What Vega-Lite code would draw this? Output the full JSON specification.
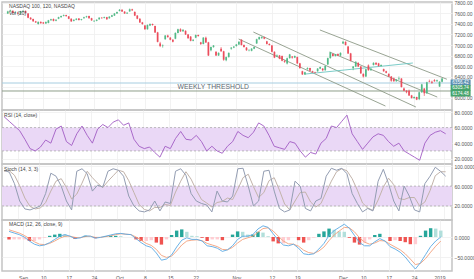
{
"$schema": "https://vega.github.io/schema/vega-lite/v6.json",
"padding": 0,
"background": "white",
"spacing": 0,
"bounds": "flush",
"config": {
  "font": "Liberation Sans",
  "view": {"stroke": "#c4c4c4", "strokeWidth": 1.5},
  "axis": {"labelFontSize": 5, "labelColor": "#555555", "gridColor": "#efefef", "gridWidth": 0.8, "ticks": false, "domain": false, "labelPadding": 2, "labelOverlap": false, "labelBound": false, "tickCount": 100}
},
"datasets": {
  "candles": [
{"t":-0.25,"o":7600,"h":7652,"l":7590,"c":7640},{"t":0.25,"o":7640,"h":7672,"l":7632,"c":7660},
{"t":0.75,"o":7650,"h":7662,"l":7602,"c":7610},{"t":1.25,"o":7610,"h":7630,"l":7598,"c":7620},
{"t":1.75,"o":7615,"h":7625,"l":7590,"c":7600},{"t":2.25,"o":7600,"h":7650,"l":7594,"c":7640},
{"t":2.75,"o":7635,"h":7660,"l":7625,"c":7650},{"t":3.25,"o":7650,"h":7656,"l":7600,"c":7610},
{"t":3.75,"o":7600,"h":7608,"l":7510,"c":7520},{"t":4.25,"o":7520,"h":7530,"l":7480,"c":7490},
{"t":4.75,"o":7495,"h":7502,"l":7440,"c":7450},{"t":5.25,"o":7450,"h":7460,"l":7420,"c":7430},
{"t":5.75,"o":7400,"h":7448,"l":7388,"c":7440},{"t":6.25,"o":7440,"h":7450,"l":7405,"c":7415},
{"t":6.75,"o":7430,"h":7438,"l":7398,"c":7410},{"t":7.25,"o":7410,"h":7450,"l":7404,"c":7440},
{"t":7.75,"o":7420,"h":7478,"l":7412,"c":7470},{"t":8.25,"o":7470,"h":7500,"l":7462,"c":7490},
{"t":8.75,"o":7495,"h":7505,"l":7450,"c":7460},{"t":9.25,"o":7460,"h":7490,"l":7452,"c":7480},
{"t":9.75,"o":7500,"h":7538,"l":7492,"c":7530},{"t":10.25,"o":7530,"h":7560,"l":7522,"c":7550},
{"t":10.75,"o":7555,"h":7580,"l":7545,"c":7570},{"t":11.25,"o":7570,"h":7576,"l":7540,"c":7550},
{"t":11.75,"o":7545,"h":7552,"l":7492,"c":7500},{"t":12.25,"o":7500,"h":7508,"l":7440,"c":7450},
{"t":12.75,"o":7460,"h":7488,"l":7450,"c":7480},{"t":13.25,"o":7480,"h":7510,"l":7472,"c":7500},
{"t":13.75,"o":7505,"h":7512,"l":7466,"c":7475},{"t":14.25,"o":7475,"h":7498,"l":7468,"c":7490},
{"t":14.75,"o":7510,"h":7538,"l":7502,"c":7530},{"t":15.25,"o":7530,"h":7556,"l":7522,"c":7545},
{"t":15.75,"o":7550,"h":7558,"l":7502,"c":7510},{"t":16.25,"o":7510,"h":7518,"l":7460,"c":7470},
{"t":16.75,"o":7450,"h":7468,"l":7438,"c":7460},{"t":17.25,"o":7460,"h":7490,"l":7452,"c":7480},
{"t":17.75,"o":7490,"h":7528,"l":7482,"c":7520},{"t":18.25,"o":7520,"h":7530,"l":7502,"c":7510},
{"t":18.75,"o":7515,"h":7540,"l":7506,"c":7530},{"t":19.25,"o":7530,"h":7536,"l":7480,"c":7490},
{"t":19.75,"o":7510,"h":7548,"l":7500,"c":7540},{"t":20.25,"o":7540,"h":7575,"l":7532,"c":7565},
{"t":20.75,"o":7560,"h":7610,"l":7552,"c":7600},{"t":21.25,"o":7600,"h":7636,"l":7592,"c":7627},
{"t":21.75,"o":7650,"h":7685,"l":7640,"c":7670},{"t":22.25,"o":7670,"h":7678,"l":7630,"c":7640},
{"t":22.75,"o":7635,"h":7645,"l":7592,"c":7600},{"t":23.25,"o":7600,"h":7625,"l":7590,"c":7615},
{"t":23.75,"o":7640,"h":7695,"l":7632,"c":7680},{"t":24.25,"o":7680,"h":7690,"l":7650,"c":7660},
{"t":24.75,"o":7630,"h":7640,"l":7550,"c":7560},{"t":25.25,"o":7560,"h":7570,"l":7490,"c":7500},
{"t":25.75,"o":7500,"h":7510,"l":7420,"c":7430},{"t":26.25,"o":7430,"h":7440,"l":7385,"c":7400},
{"t":26.75,"o":7370,"h":7380,"l":7290,"c":7300},{"t":27.25,"o":7300,"h":7392,"l":7292,"c":7380},
{"t":27.75,"o":7370,"h":7412,"l":7360,"c":7400},{"t":28.25,"o":7400,"h":7408,"l":7370,"c":7380},
{"t":28.75,"o":7360,"h":7368,"l":7230,"c":7240},{"t":29.25,"o":7240,"h":7250,"l":7050,"c":7060},
{"t":29.75,"o":7030,"h":7060,"l":6960,"c":6980},{"t":30.25,"o":6980,"h":7010,"l":6950,"c":6990},
{"t":30.75,"o":7110,"h":7190,"l":7100,"c":7180},{"t":31.25,"o":7180,"h":7196,"l":7140,"c":7150},
{"t":31.75,"o":7140,"h":7150,"l":7090,"c":7100},{"t":32.25,"o":7100,"h":7110,"l":7050,"c":7060},
{"t":32.75,"o":7120,"h":7240,"l":7110,"c":7230},{"t":33.25,"o":7230,"h":7310,"l":7222,"c":7300},
{"t":33.75,"o":7300,"h":7318,"l":7250,"c":7260},{"t":34.25,"o":7260,"h":7298,"l":7250,"c":7290},
{"t":34.75,"o":7270,"h":7280,"l":7190,"c":7200},{"t":35.25,"o":7200,"h":7210,"l":7120,"c":7130},
{"t":35.75,"o":7160,"h":7170,"l":7070,"c":7080},{"t":36.25,"o":7080,"h":7110,"l":7070,"c":7100},
{"t":36.75,"o":7140,"h":7200,"l":7130,"c":7190},{"t":37.25,"o":7190,"h":7198,"l":7160,"c":7170},
{"t":37.75,"o":7050,"h":7060,"l":7000,"c":7020},{"t":38.25,"o":7020,"h":7150,"l":7012,"c":7140},
{"t":38.75,"o":7140,"h":7160,"l":7040,"c":7050},{"t":39.25,"o":7050,"h":7060,"l":6790,"c":6800},
{"t":39.75,"o":6900,"h":6970,"l":6880,"c":6960},{"t":40.25,"o":6960,"h":7000,"l":6950,"c":6990},
{"t":40.75,"o":6870,"h":6880,"l":6790,"c":6800},{"t":41.25,"o":6800,"h":6860,"l":6792,"c":6850},
{"t":41.75,"o":6930,"h":6960,"l":6870,"c":6880},{"t":42.25,"o":6880,"h":6890,"l":6700,"c":6720},
{"t":42.75,"o":6710,"h":6780,"l":6690,"c":6770},{"t":43.25,"o":6770,"h":6858,"l":6760,"c":6850},
{"t":43.75,"o":6930,"h":6960,"l":6910,"c":6950},{"t":44.25,"o":6950,"h":6980,"l":6940,"c":6970},
{"t":44.75,"o":6980,"h":7020,"l":6970,"c":7010},{"t":45.25,"o":7010,"h":7070,"l":7000,"c":7060},
{"t":45.75,"o":7100,"h":7110,"l":6990,"c":7000},{"t":46.25,"o":7000,"h":7010,"l":6950,"c":6960},
{"t":46.75,"o":6950,"h":6960,"l":6890,"c":6900},{"t":47.25,"o":6900,"h":6920,"l":6880,"c":6905},
{"t":47.75,"o":6890,"h":6940,"l":6880,"c":6930},{"t":48.25,"o":6930,"h":6970,"l":6920,"c":6960},
{"t":48.75,"o":7030,"h":7120,"l":7020,"c":7110},{"t":49.25,"o":7110,"h":7160,"l":7100,"c":7150},
{"t":49.75,"o":7130,"h":7165,"l":7120,"c":7150},{"t":50.25,"o":7150,"h":7158,"l":7110,"c":7120},
{"t":50.75,"o":7070,"h":7080,"l":7010,"c":7020},{"t":51.25,"o":7020,"h":7030,"l":6990,"c":7000},
{"t":51.75,"o":6990,"h":7000,"l":6860,"c":6870},{"t":52.25,"o":6870,"h":6880,"l":6750,"c":6760},
{"t":52.75,"o":6780,"h":6820,"l":6770,"c":6800},{"t":53.25,"o":6800,"h":6810,"l":6730,"c":6740},
{"t":53.75,"o":6790,"h":6800,"l":6690,"c":6700},{"t":54.25,"o":6700,"h":6710,"l":6660,"c":6680},
{"t":54.75,"o":6650,"h":6760,"l":6630,"c":6750},{"t":55.25,"o":6750,"h":6830,"l":6740,"c":6820},
{"t":55.75,"o":6780,"h":6790,"l":6740,"c":6760},{"t":56.25,"o":6760,"h":6800,"l":6750,"c":6790},
{"t":56.75,"o":6770,"h":6780,"l":6640,"c":6650},{"t":57.25,"o":6650,"h":6660,"l":6550,"c":6560},
{"t":57.75,"o":6500,"h":6510,"l":6430,"c":6440},{"t":58.25,"o":6440,"h":6490,"l":6430,"c":6480},
{"t":58.75,"o":6540,"h":6575,"l":6530,"c":6560},{"t":59.25,"o":6560,"h":6566,"l":6500,"c":6510},
{"t":59.75,"o":6500,"h":6510,"l":6470,"c":6480},{"t":60.25,"o":6480,"h":6490,"l":6460,"c":6470},
{"t":60.75,"o":6500,"h":6560,"l":6490,"c":6550},{"t":61.25,"o":6550,"h":6590,"l":6540,"c":6580},
{"t":61.75,"o":6550,"h":6560,"l":6500,"c":6520},{"t":62.25,"o":6520,"h":6610,"l":6510,"c":6600},
{"t":62.75,"o":6630,"h":6760,"l":6620,"c":6750},{"t":63.25,"o":6750,"h":6870,"l":6740,"c":6860},
{"t":63.75,"o":6830,"h":6845,"l":6780,"c":6790},{"t":64.25,"o":6790,"h":6830,"l":6780,"c":6820},
{"t":64.75,"o":6830,"h":6840,"l":6790,"c":6800},{"t":65.25,"o":6800,"h":6860,"l":6790,"c":6850},
{"t":65.75,"o":7030,"h":7080,"l":7020,"c":7060},{"t":66.25,"o":7060,"h":7070,"l":6990,"c":7000},
{"t":66.75,"o":6970,"h":6980,"l":6830,"c":6840},{"t":67.25,"o":6840,"h":6850,"l":6690,"c":6700},
{"t":67.75,"o":6560,"h":6600,"l":6520,"c":6590},{"t":68.25,"o":6590,"h":6690,"l":6580,"c":6680},
{"t":68.75,"o":6660,"h":6670,"l":6580,"c":6590},{"t":69.25,"o":6590,"h":6600,"l":6450,"c":6460},
{"t":69.75,"o":6450,"h":6460,"l":6380,"c":6400},{"t":70.25,"o":6400,"h":6550,"l":6390,"c":6540},
{"t":70.75,"o":6610,"h":6630,"l":6510,"c":6520},{"t":71.25,"o":6520,"h":6560,"l":6510,"c":6550},
{"t":71.75,"o":6620,"h":6670,"l":6610,"c":6660},{"t":72.25,"o":6660,"h":6668,"l":6620,"c":6630},
{"t":72.75,"o":6650,"h":6660,"l":6590,"c":6600},{"t":73.25,"o":6600,"h":6630,"l":6590,"c":6620},
{"t":73.75,"o":6540,"h":6550,"l":6490,"c":6500},{"t":74.25,"o":6500,"h":6510,"l":6460,"c":6470},
{"t":74.75,"o":6450,"h":6460,"l":6390,"c":6400},{"t":75.25,"o":6400,"h":6410,"l":6300,"c":6320},
{"t":75.75,"o":6360,"h":6380,"l":6300,"c":6310},{"t":76.25,"o":6310,"h":6350,"l":6300,"c":6340},
{"t":76.75,"o":6350,"h":6400,"l":6340,"c":6360},{"t":77.25,"o":6360,"h":6370,"l":6190,"c":6200},
{"t":77.75,"o":6170,"h":6190,"l":6120,"c":6130},{"t":78.25,"o":6130,"h":6140,"l":6080,"c":6100},
{"t":78.75,"o":6130,"h":6150,"l":6030,"c":6040},{"t":79.25,"o":6040,"h":6050,"l":5980,"c":5990},
{"t":79.75,"o":5990,"h":6020,"l":5975,"c":6010},{"t":80.25,"o":6010,"h":6015,"l":5950,"c":5960},
{"t":80.75,"o":5970,"h":6110,"l":5950,"c":6100},{"t":81.25,"o":6100,"h":6260,"l":6090,"c":6250},
{"t":81.75,"o":6170,"h":6180,"l":6030,"c":6080},{"t":82.25,"o":6080,"h":6300,"l":6070,"c":6290},
{"t":82.75,"o":6310,"h":6340,"l":6290,"c":6300},{"t":83.25,"o":6300,"h":6320,"l":6260,"c":6280},
{"t":83.75,"o":6330,"h":6350,"l":6300,"c":6310},{"t":84.25,"o":6310,"h":6340,"l":6300,"c":6330},
{"t":84.75,"o":6210,"h":6310,"l":6200,"c":6300},{"t":85.25,"o":6300,"h":6370,"l":6290,"c":6360}
  ],
  "ind": [
{"t":0,"r":74,"k":92,"d":90,"m":14,"s":18,"h":-6,"g":"nd"},
{"t":1,"r":68,"k":88,"d":91,"m":10,"s":14,"h":-6,"g":"nu"},
{"t":2,"r":62,"k":65,"d":82,"m":6,"s":10,"h":-6,"g":"nu"},
{"t":3,"r":56,"k":30,"d":61,"m":0,"s":4,"h":-6,"g":"nu"},
{"t":4,"r":45,"k":14,"d":36,"m":-10,"s":-4,"h":-10,"g":"nd"},
{"t":5,"r":33,"k":12,"d":19,"m":-18,"s":-12,"h":-10,"g":"nu"},
{"t":6,"r":30,"k":16,"d":14,"m":-22,"s":-18,"h":-6,"g":"nu"},
{"t":7,"r":35,"k":20,"d":16,"m":-20,"s":-19,"h":-2,"g":"nu"},
{"t":8,"r":44,"k":45,"d":27,"m":-14,"s":-16,"h":3,"g":"pu"},
{"t":9,"r":40,"k":86,"d":50,"m":-6,"s":-10,"h":6,"g":"pu"},
{"t":10,"r":58,"k":80,"d":70,"m":2,"s":-3,"h":8,"g":"pu"},
{"t":11,"r":62,"k":60,"d":75,"m":6,"s":2,"h":6,"g":"pd"},
{"t":12,"r":42,"k":30,"d":57,"m":2,"s":2,"h":0,"g":"pd"},
{"t":13,"r":37,"k":12,"d":34,"m":-4,"s":-1,"h":-5,"g":"nd"},
{"t":14,"r":52,"k":90,"d":44,"m":-2,"s":-2,"h":0,"g":"pu"},
{"t":15,"r":62,"k":95,"d":66,"m":3,"s":1,"h":3,"g":"pu"},
{"t":16,"r":50,"k":85,"d":90,"m":2,"s":2,"h":0,"g":"pd"},
{"t":17,"r":40,"k":50,"d":77,"m":-3,"s":-1,"h":-3,"g":"nd"},
{"t":18,"r":58,"k":62,"d":66,"m":-1,"s":-1,"h":0,"g":"pu"},
{"t":19,"r":64,"k":58,"d":57,"m":2,"s":1,"h":2,"g":"pu"},
{"t":20,"r":60,"k":90,"d":70,"m":5,"s":3,"h":3,"g":"pu"},
{"t":21,"r":67,"k":95,"d":81,"m":8,"s":6,"h":3,"g":"pu"},
{"t":22,"r":70,"k":92,"d":92,"m":9,"s":8,"h":2,"g":"pd"},
{"t":23,"r":63,"k":80,"d":89,"m":7,"s":7,"h":0,"g":"pd"},
{"t":24,"r":66,"k":40,"d":71,"m":6,"s":6,"h":0,"g":"pu"},
{"t":25,"r":45,"k":20,"d":47,"m":-4,"s":0,"h":-6,"g":"nd"},
{"t":26,"r":36,"k":10,"d":23,"m":-14,"s":-8,"h":-10,"g":"nd"},
{"t":27,"r":33,"k":8,"d":13,"m":-22,"s":-16,"h":-10,"g":"nu"},
{"t":28,"r":35,"k":12,"d":10,"m":-26,"s":-21,"h":-8,"g":"nu"},
{"t":29,"r":28,"k":30,"d":17,"m":-40,"s":-31,"h":-14,"g":"nd"},
{"t":30,"r":22,"k":10,"d":17,"m":-58,"s":-46,"h":-19,"g":"nd"},
{"t":31,"r":36,"k":28,"d":23,"m":-55,"s":-51,"h":-6,"g":"nu"},
{"t":32,"r":33,"k":25,"d":21,"m":-45,"s":-48,"h":5,"g":"pu"},
{"t":33,"r":46,"k":90,"d":48,"m":-25,"s":-35,"h":16,"g":"pu"},
{"t":34,"r":55,"k":95,"d":70,"m":-8,"s":-20,"h":19,"g":"pu"},
{"t":35,"r":45,"k":82,"d":89,"m":-2,"s":-10,"h":13,"g":"pd"},
{"t":36,"r":44,"k":45,"d":74,"m":-6,"s":-8,"h":3,"g":"pd"},
{"t":37,"r":50,"k":30,"d":52,"m":-6,"s":-7,"h":2,"g":"pd"},
{"t":38,"r":42,"k":25,"d":33,"m":-10,"s":-9,"h":-2,"g":"nd"},
{"t":39,"r":30,"k":22,"d":26,"m":-22,"s":-16,"h":-10,"g":"nd"},
{"t":40,"r":36,"k":8,"d":18,"m":-24,"s":-20,"h":-6,"g":"nu"},
{"t":41,"r":30,"k":50,"d":27,"m":-28,"s":-24,"h":-6,"g":"nu"},
{"t":42,"r":27,"k":30,"d":29,"m":-36,"s":-31,"h":-8,"g":"nd"},
{"t":43,"r":36,"k":28,"d":36,"m":-32,"s":-32,"h":0,"g":"pu"},
{"t":44,"r":42,"k":40,"d":33,"m":-22,"s":-26,"h":6,"g":"pu"},
{"t":45,"r":55,"k":95,"d":54,"m":-6,"s":-15,"h":14,"g":"pu"},
{"t":46,"r":50,"k":96,"d":77,"m":2,"s":-6,"h":13,"g":"pd"},
{"t":47,"r":47,"k":60,"d":84,"m":2,"s":-2,"h":6,"g":"pd"},
{"t":48,"r":54,"k":20,"d":59,"m":6,"s":2,"h":6,"g":"pu"},
{"t":49,"r":66,"k":30,"d":37,"m":20,"s":12,"h":13,"g":"pu"},
{"t":50,"r":62,"k":90,"d":47,"m":28,"s":21,"h":11,"g":"pd"},
{"t":51,"r":50,"k":92,"d":71,"m":24,"s":23,"h":2,"g":"pd"},
{"t":52,"r":36,"k":50,"d":77,"m":8,"s":15,"h":-11,"g":"nd"},
{"t":53,"r":34,"k":15,"d":52,"m":-8,"s":2,"h":-16,"g":"nd"},
{"t":54,"r":32,"k":8,"d":24,"m":-20,"s":-10,"h":-16,"g":"nu"},
{"t":55,"r":42,"k":12,"d":12,"m":-22,"s":-17,"h":-8,"g":"nu"},
{"t":56,"r":40,"k":70,"d":30,"m":-18,"s":-18,"h":0,"g":"pu"},
{"t":57,"r":30,"k":60,"d":47,"m":-28,"s":-23,"h":-8,"g":"nd"},
{"t":58,"r":22,"k":15,"d":48,"m":-42,"s":-33,"h":-14,"g":"nd"},
{"t":59,"r":28,"k":10,"d":28,"m":-44,"s":-39,"h":-8,"g":"nu"},
{"t":60,"r":26,"k":30,"d":18,"m":-42,"s":-41,"h":-2,"g":"nu"},
{"t":61,"r":40,"k":35,"d":25,"m":-30,"s":-35,"h":8,"g":"pu"},
{"t":62,"r":46,"k":80,"d":48,"m":-16,"s":-25,"h":14,"g":"pu"},
{"t":63,"r":62,"k":96,"d":70,"m":4,"s":-9,"h":21,"g":"pu"},
{"t":64,"r":60,"k":92,"d":89,"m":16,"s":5,"h":18,"g":"pd"},
{"t":65,"r":68,"k":96,"d":95,"m":24,"s":15,"h":14,"g":"pd"},
{"t":66,"r":76,"k":85,"d":91,"m":32,"s":24,"h":13,"g":"pd"},
{"t":67,"r":52,"k":45,"d":75,"m":22,"s":23,"h":-2,"g":"nd"},
{"t":68,"r":42,"k":25,"d":52,"m":4,"s":13,"h":-14,"g":"nd"},
{"t":69,"r":32,"k":8,"d":26,"m":-14,"s":-2,"h":-19,"g":"nd"},
{"t":70,"r":40,"k":15,"d":16,"m":-22,"s":-13,"h":-14,"g":"nu"},
{"t":71,"r":48,"k":10,"d":11,"m":-22,"s":-18,"h":-6,"g":"nu"},
{"t":72,"r":52,"k":70,"d":32,"m":-12,"s":-15,"h":5,"g":"pu"},
{"t":73,"r":50,"k":94,"d":58,"m":-4,"s":-9,"h":8,"g":"pu"},
{"t":74,"r":42,"k":65,"d":76,"m":-10,"s":-10,"h":0,"g":"pd"},
{"t":75,"r":36,"k":30,"d":63,"m":-24,"s":-18,"h":-10,"g":"nd"},
{"t":76,"r":40,"k":10,"d":35,"m":-30,"s":-25,"h":-8,"g":"nu"},
{"t":77,"r":30,"k":60,"d":33,"m":-38,"s":-32,"h":-10,"g":"nd"},
{"t":78,"r":26,"k":40,"d":37,"m":-50,"s":-42,"h":-13,"g":"nd"},
{"t":79,"r":22,"k":12,"d":37,"m":-66,"s":-55,"h":-18,"g":"nd"},
{"t":80,"r":18,"k":8,"d":20,"m":-80,"s":-69,"h":-18,"g":"nu"},
{"t":81,"r":40,"k":65,"d":28,"m":-64,"s":-66,"h":3,"g":"pu"},
{"t":82,"r":50,"k":80,"d":51,"m":-44,"s":-54,"h":16,"g":"pu"},
{"t":83,"r":54,"k":98,"d":81,"m":-24,"s":-38,"h":22,"g":"pu"},
{"t":84,"r":56,"k":90,"d":89,"m":-10,"s":-23,"h":21,"g":"pd"},
{"t":85,"r":52,"k":80,"d":89,"m":0,"s":-10,"h":16,"g":"pd"}
  ],
  "levels": [{"p":6276,"k":"thr"},{"p":6124,"k":"base"}],
  "chan": [
{"id":1,"k":"ch","t":45.2,"p":7114},{"id":1,"k":"ch","t":74.1,"p":5838},
{"id":2,"k":"ch","t":48.1,"p":7247},{"id":2,"k":"ch","t":80.1,"p":5819},
{"id":3,"k":"ch","t":61.2,"p":7286},{"id":3,"k":"ch","t":86.2,"p":6348},
{"id":4,"k":"ch","t":63.1,"p":6866},{"id":4,"k":"ch","t":84.3,"p":6009},
{"id":5,"k":"tl","t":58.3,"p":6447},{"id":5,"k":"tl","t":79.5,"p":6657}
  ],
  "boxes": [
{"label":"6356.42","p":6285,"k":"last"},
{"label":"6305.74","p":6181,"k":"lvl"},
{"label":"6174.48","p":6076,"k":"lvl"}
  ]
},
"vconcat": [
{
  "width": 450, "height": 108,
  "resolve": {"scale": {"color": "independent"}},
  "layer": [
    {"data": {"name": "levels"}, "mark": {"type": "rule", "strokeWidth": 1},
     "encoding": {
       "y": {"field": "p", "type": "quantitative", "scale": {"domain": [5762, 7819], "nice": false, "zero": false}, "axis": {"orient": "right", "values": [6000,6200,6400,6600,6800,7000,7200,7400,7600,7800], "format": ".2f", "grid": true, "title": null, "labelExpr": "datum.value == 6200 ? '' : datum.label"}},
       "color": {"field": "k", "type": "nominal", "scale": {"domain": ["thr", "base"], "range": ["#a6cde0", "#8f9f8a"]}, "legend": null}}},
    {"data": {"name": "chan"}, "mark": {"type": "line", "strokeWidth": 0.9},
     "encoding": {
       "x": {"field": "t", "type": "quantitative", "scale": {"domain": [-0.4, 86.22], "nice": false, "zero": false}, "axis": {"values": [2.75,6.75,11.75,16.75,21.75,26.75,31.75,36.75,44.75,51.75,56.75,65.75,69.75,74.75,79.75,84.75], "labels": false, "grid": true, "title": null}},
       "y": {"field": "p", "type": "quantitative", "scale": {"domain": [5762, 7819], "nice": false, "zero": false}, "axis": {"orient": "right", "values": [6000,6200,6400,6600,6800,7000,7200,7400,7600,7800], "format": ".2f", "grid": true, "title": null, "labelExpr": "datum.value == 6200 ? '' : datum.label"}},
       "detail": {"field": "id"},
       "color": {"field": "k", "type": "nominal", "scale": {"domain": ["ch", "tl"], "range": ["#8d9a87", "#6cc6c2"]}, "legend": null}}},
    {"data": {"name": "candles"}, "mark": {"type": "rule", "strokeWidth": 0.7},
     "encoding": {
       "x": {"field": "t", "type": "quantitative", "scale": {"domain": [-0.4, 86.22], "nice": false, "zero": false}, "axis": {"values": [2.75,6.75,11.75,16.75,21.75,26.75,31.75,36.75,44.75,51.75,56.75,65.75,69.75,74.75,79.75,84.75], "labels": false, "grid": true, "title": null}},
       "y": {"field": "l", "type": "quantitative", "scale": {"domain": [5762, 7819], "nice": false, "zero": false}, "axis": {"orient": "right", "values": [6000,6200,6400,6600,6800,7000,7200,7400,7600,7800], "format": ".2f", "grid": true, "title": null, "labelExpr": "datum.value == 6200 ? '' : datum.label"}},
       "y2": {"field": "h"},
       "color": {"condition": {"test": "datum.c >= datum.o", "value": "#53b987"}, "value": "#eb4d5c"}}},
    {"data": {"name": "candles"}, "mark": {"type": "bar", "size": 1.7},
     "encoding": {
       "x": {"field": "t", "type": "quantitative", "scale": {"domain": [-0.4, 86.22], "nice": false, "zero": false}, "axis": {"values": [2.75,6.75,11.75,16.75,21.75,26.75,31.75,36.75,44.75,51.75,56.75,65.75,69.75,74.75,79.75,84.75], "labels": false, "grid": true, "title": null}},
       "y": {"field": "o", "type": "quantitative", "scale": {"domain": [5762, 7819], "nice": false, "zero": false}, "axis": {"orient": "right", "values": [6000,6200,6400,6600,6800,7000,7200,7400,7600,7800], "format": ".2f", "grid": true, "title": null, "labelExpr": "datum.value == 6200 ? '' : datum.label"}},
       "y2": {"field": "c"},
       "color": {"condition": {"test": "datum.c >= datum.o", "value": "#53b987"}, "value": "#eb4d5c"}}},
    {"data": {"values": [{"txt": "WEEKLY THRESHOLD"}]}, "mark": {"type": "text", "fontSize": 6.8, "color": "#5c6770", "align": "center", "baseline": "middle"},
     "encoding": {
       "x": {"datum": 40.2, "type": "quantitative", "scale": {"domain": [-0.4, 86.22], "nice": false, "zero": false}},
       "y": {"datum": 6205, "type": "quantitative", "scale": {"domain": [5762, 7819], "nice": false, "zero": false}},
       "text": {"field": "txt"}}},
    {"data": {"values": [{"txt": ["NASDAQ 100, 120, NASDAQ", "Vol (20)"]}]}, "mark": {"type": "text", "fontSize": 5, "color": "#444444", "align": "left", "baseline": "top", "lineHeight": 7},
     "encoding": {
       "x": {"datum": 0.0, "type": "quantitative", "scale": {"domain": [-0.4, 86.22], "nice": false, "zero": false}},
       "y": {"datum": 7780, "type": "quantitative", "scale": {"domain": [5762, 7819], "nice": false, "zero": false}},
       "text": {"field": "txt"}}},
    {"data": {"name": "boxes"}, "mark": {"type": "point", "filled": true, "opacity": 1, "shape": "M-1,-0.3H1V0.3H-1Z", "size": 400},
     "encoding": {
       "x": {"datum": 88.9, "type": "quantitative", "scale": {"domain": [-0.4, 86.22], "nice": false, "zero": false}},
       "y": {"field": "p", "type": "quantitative", "scale": {"domain": [5762, 7819], "nice": false, "zero": false}},
       "color": {"field": "k", "type": "nominal", "scale": {"domain": ["last", "lvl"], "range": ["#5b8fb0", "#46a46c"]}, "legend": null}}},
    {"data": {"name": "boxes"}, "mark": {"type": "text", "fontSize": 4.6, "color": "white", "align": "center", "baseline": "middle"},
     "encoding": {
       "x": {"datum": 88.9, "type": "quantitative", "scale": {"domain": [-0.4, 86.22], "nice": false, "zero": false}},
       "y": {"field": "p", "type": "quantitative", "scale": {"domain": [5762, 7819], "nice": false, "zero": false}},
       "text": {"field": "label"}}}
  ]
},
{
  "width": 450, "height": 54,
  "layer": [
    {"data": {"values": [{"a": 1}]}, "mark": {"type": "rect", "color": "#ead8f6"},
     "encoding": {
       "y": {"datum": 60, "type": "quantitative", "scale": {"domain": [13.2, 82.6], "nice": false, "zero": false}, "axis": {"orient": "right", "values": [20,40,60,80], "format": ".4f", "grid": true, "title": null}},
       "y2": {"datum": 30}}},
    {"data": {"values": [{"v": 60}, {"v": 30}]}, "mark": {"type": "rule", "strokeDash": [2, 2], "color": "#a3a3a3", "strokeWidth": 0.7},
     "encoding": {
       "y": {"field": "v", "type": "quantitative", "scale": {"domain": [13.2, 82.6], "nice": false, "zero": false}, "axis": {"orient": "right", "values": [20,40,60,80], "format": ".4f", "grid": true, "title": null}}}},
    {"data": {"name": "ind"}, "mark": {"type": "line", "color": "#a25cc4", "strokeWidth": 0.9},
     "encoding": {
       "x": {"field": "t", "type": "quantitative", "scale": {"domain": [-0.4, 86.22], "nice": false, "zero": false}, "axis": {"values": [2.75,6.75,11.75,16.75,21.75,26.75,31.75,36.75,44.75,51.75,56.75,65.75,69.75,74.75,79.75,84.75], "labels": false, "grid": true, "title": null}},
       "y": {"field": "r", "type": "quantitative", "scale": {"domain": [13.2, 82.6], "nice": false, "zero": false}, "axis": {"orient": "right", "values": [20,40,60,80], "format": ".4f", "grid": true, "title": null}}}},
    {"data": {"values": [{"txt": "RSI (14, close)"}]}, "mark": {"type": "text", "fontSize": 5, "color": "#444444", "align": "left", "baseline": "middle"},
     "encoding": {
       "x": {"datum": 0.0, "type": "quantitative", "scale": {"domain": [-0.4, 86.22], "nice": false, "zero": false}},
       "y": {"datum": 76.5, "type": "quantitative", "scale": {"domain": [13.2, 82.6], "nice": false, "zero": false}},
       "text": {"field": "txt"}}}
  ]
},
{
  "width": 450, "height": 56,
  "layer": [
    {"data": {"values": [{"a": 1}]}, "mark": {"type": "rect", "color": "#ead8f6"},
     "encoding": {
       "y": {"datum": 60, "type": "quantitative", "scale": {"domain": [-8.3, 104.6], "nice": false, "zero": false}, "axis": {"orient": "right", "values": [20,60,100], "format": ".4f", "grid": true, "title": null}},
       "y2": {"datum": 20}}},
    {"data": {"values": [{"v": 60}, {"v": 20}]}, "mark": {"type": "rule", "strokeDash": [2, 2], "color": "#a3a3a3", "strokeWidth": 0.7},
     "encoding": {
       "y": {"field": "v", "type": "quantitative", "scale": {"domain": [-8.3, 104.6], "nice": false, "zero": false}, "axis": {"orient": "right", "values": [20,60,100], "format": ".4f", "grid": true, "title": null}}}},
    {"data": {"name": "ind"}, "mark": {"type": "line", "color": "#c2b3aa", "strokeWidth": 1},
     "encoding": {
       "x": {"field": "t", "type": "quantitative", "scale": {"domain": [-0.4, 86.22], "nice": false, "zero": false}, "axis": {"values": [2.75,6.75,11.75,16.75,21.75,26.75,31.75,36.75,44.75,51.75,56.75,65.75,69.75,74.75,79.75,84.75], "labels": false, "grid": true, "title": null}},
       "y": {"field": "d", "type": "quantitative", "scale": {"domain": [-8.3, 104.6], "nice": false, "zero": false}, "axis": {"orient": "right", "values": [20,60,100], "format": ".4f", "grid": true, "title": null}}}},
    {"data": {"name": "ind"}, "mark": {"type": "line", "color": "#939db2", "strokeWidth": 1},
     "encoding": {
       "x": {"field": "t", "type": "quantitative", "scale": {"domain": [-0.4, 86.22], "nice": false, "zero": false}, "axis": {"values": [2.75,6.75,11.75,16.75,21.75,26.75,31.75,36.75,44.75,51.75,56.75,65.75,69.75,74.75,79.75,84.75], "labels": false, "grid": true, "title": null}},
       "y": {"field": "k", "type": "quantitative", "scale": {"domain": [-8.3, 104.6], "nice": false, "zero": false}, "axis": {"orient": "right", "values": [20,60,100], "format": ".4f", "grid": true, "title": null}}}},
    {"data": {"values": [{"txt": "Stoch (14, 3, 3)"}]}, "mark": {"type": "text", "fontSize": 5, "color": "#444444", "align": "left", "baseline": "middle"},
     "encoding": {
       "x": {"datum": 0.0, "type": "quantitative", "scale": {"domain": [-0.4, 86.22], "nice": false, "zero": false}},
       "y": {"datum": 94.5, "type": "quantitative", "scale": {"domain": [-8.3, 104.6], "nice": false, "zero": false}},
       "text": {"field": "txt"}}}
  ]
},
{
  "width": 450, "height": 51,
  "resolve": {"scale": {"color": "independent"}},
  "layer": [
    {"data": {"name": "ind"}, "mark": {"type": "bar", "size": 3.4},
     "encoding": {
       "x": {"field": "t", "type": "quantitative", "scale": {"domain": [-0.4, 86.22], "nice": false, "zero": false}, "axis": {"values": [2.75,6.75,11.75,16.75,21.75,26.75,31.75,36.75,44.75,51.75,56.75,65.75,69.75,74.75,79.75,84.75], "labels": true, "grid": true, "title": null, "labelFlush": false, "labelOverlap": false, "labelPadding": 4, "labelExpr": "['Sep','10','17','24','Oct','8','15','22','Nov','12','19','Dec','10','17','24','2019'][indexof([2.75,6.75,11.75,16.75,21.75,26.75,31.75,36.75,44.75,51.75,56.75,65.75,69.75,74.75,79.75,84.75], datum.value)]"}},
       "y": {"field": "h", "type": "quantitative", "scale": {"domain": [-85, 42.5], "nice": false, "zero": false}, "axis": {"orient": "right", "values": [-50, 0], "format": ".4f", "grid": true, "title": null}},
       "y2": {"datum": 0},
       "color": {"field": "g", "type": "nominal", "scale": {"domain": ["pu", "pd", "nd", "nu"], "range": ["#26a69a", "#b2dfdb", "#ef5350", "#ffcdd2"]}, "legend": null}}},
    {"data": {"name": "ind"}, "mark": {"type": "line", "color": "#f3a07c", "strokeWidth": 0.9},
     "encoding": {
       "x": {"field": "t", "type": "quantitative", "scale": {"domain": [-0.4, 86.22], "nice": false, "zero": false}, "axis": {"values": [2.75,6.75,11.75,16.75,21.75,26.75,31.75,36.75,44.75,51.75,56.75,65.75,69.75,74.75,79.75,84.75], "labels": true, "grid": true, "title": null, "labelFlush": false, "labelOverlap": false, "labelPadding": 4, "labelExpr": "['Sep','10','17','24','Oct','8','15','22','Nov','12','19','Dec','10','17','24','2019'][indexof([2.75,6.75,11.75,16.75,21.75,26.75,31.75,36.75,44.75,51.75,56.75,65.75,69.75,74.75,79.75,84.75], datum.value)]"}},
       "y": {"field": "s", "type": "quantitative", "scale": {"domain": [-85, 42.5], "nice": false, "zero": false}, "axis": {"orient": "right", "values": [-50, 0], "format": ".4f", "grid": true, "title": null}}}},
    {"data": {"name": "ind"}, "mark": {"type": "line", "color": "#5aa9e3", "strokeWidth": 0.9},
     "encoding": {
       "x": {"field": "t", "type": "quantitative", "scale": {"domain": [-0.4, 86.22], "nice": false, "zero": false}, "axis": {"values": [2.75,6.75,11.75,16.75,21.75,26.75,31.75,36.75,44.75,51.75,56.75,65.75,69.75,74.75,79.75,84.75], "labels": true, "grid": true, "title": null, "labelFlush": false, "labelOverlap": false, "labelPadding": 4, "labelExpr": "['Sep','10','17','24','Oct','8','15','22','Nov','12','19','Dec','10','17','24','2019'][indexof([2.75,6.75,11.75,16.75,21.75,26.75,31.75,36.75,44.75,51.75,56.75,65.75,69.75,74.75,79.75,84.75], datum.value)]"}},
       "y": {"field": "m", "type": "quantitative", "scale": {"domain": [-85, 42.5], "nice": false, "zero": false}, "axis": {"orient": "right", "values": [-50, 0], "format": ".4f", "grid": true, "title": null}}}},
    {"data": {"values": [{"txt": "MACD (12, 26, close, 9)"}]}, "mark": {"type": "text", "fontSize": 5, "color": "#444444", "align": "left", "baseline": "middle"},
     "encoding": {
       "x": {"datum": 0.0, "type": "quantitative", "scale": {"domain": [-0.4, 86.22], "nice": false, "zero": false}},
       "y": {"datum": 32.5, "type": "quantitative", "scale": {"domain": [-85, 42.5], "nice": false, "zero": false}},
       "text": {"field": "txt"}}}
  ]
}
]
}
